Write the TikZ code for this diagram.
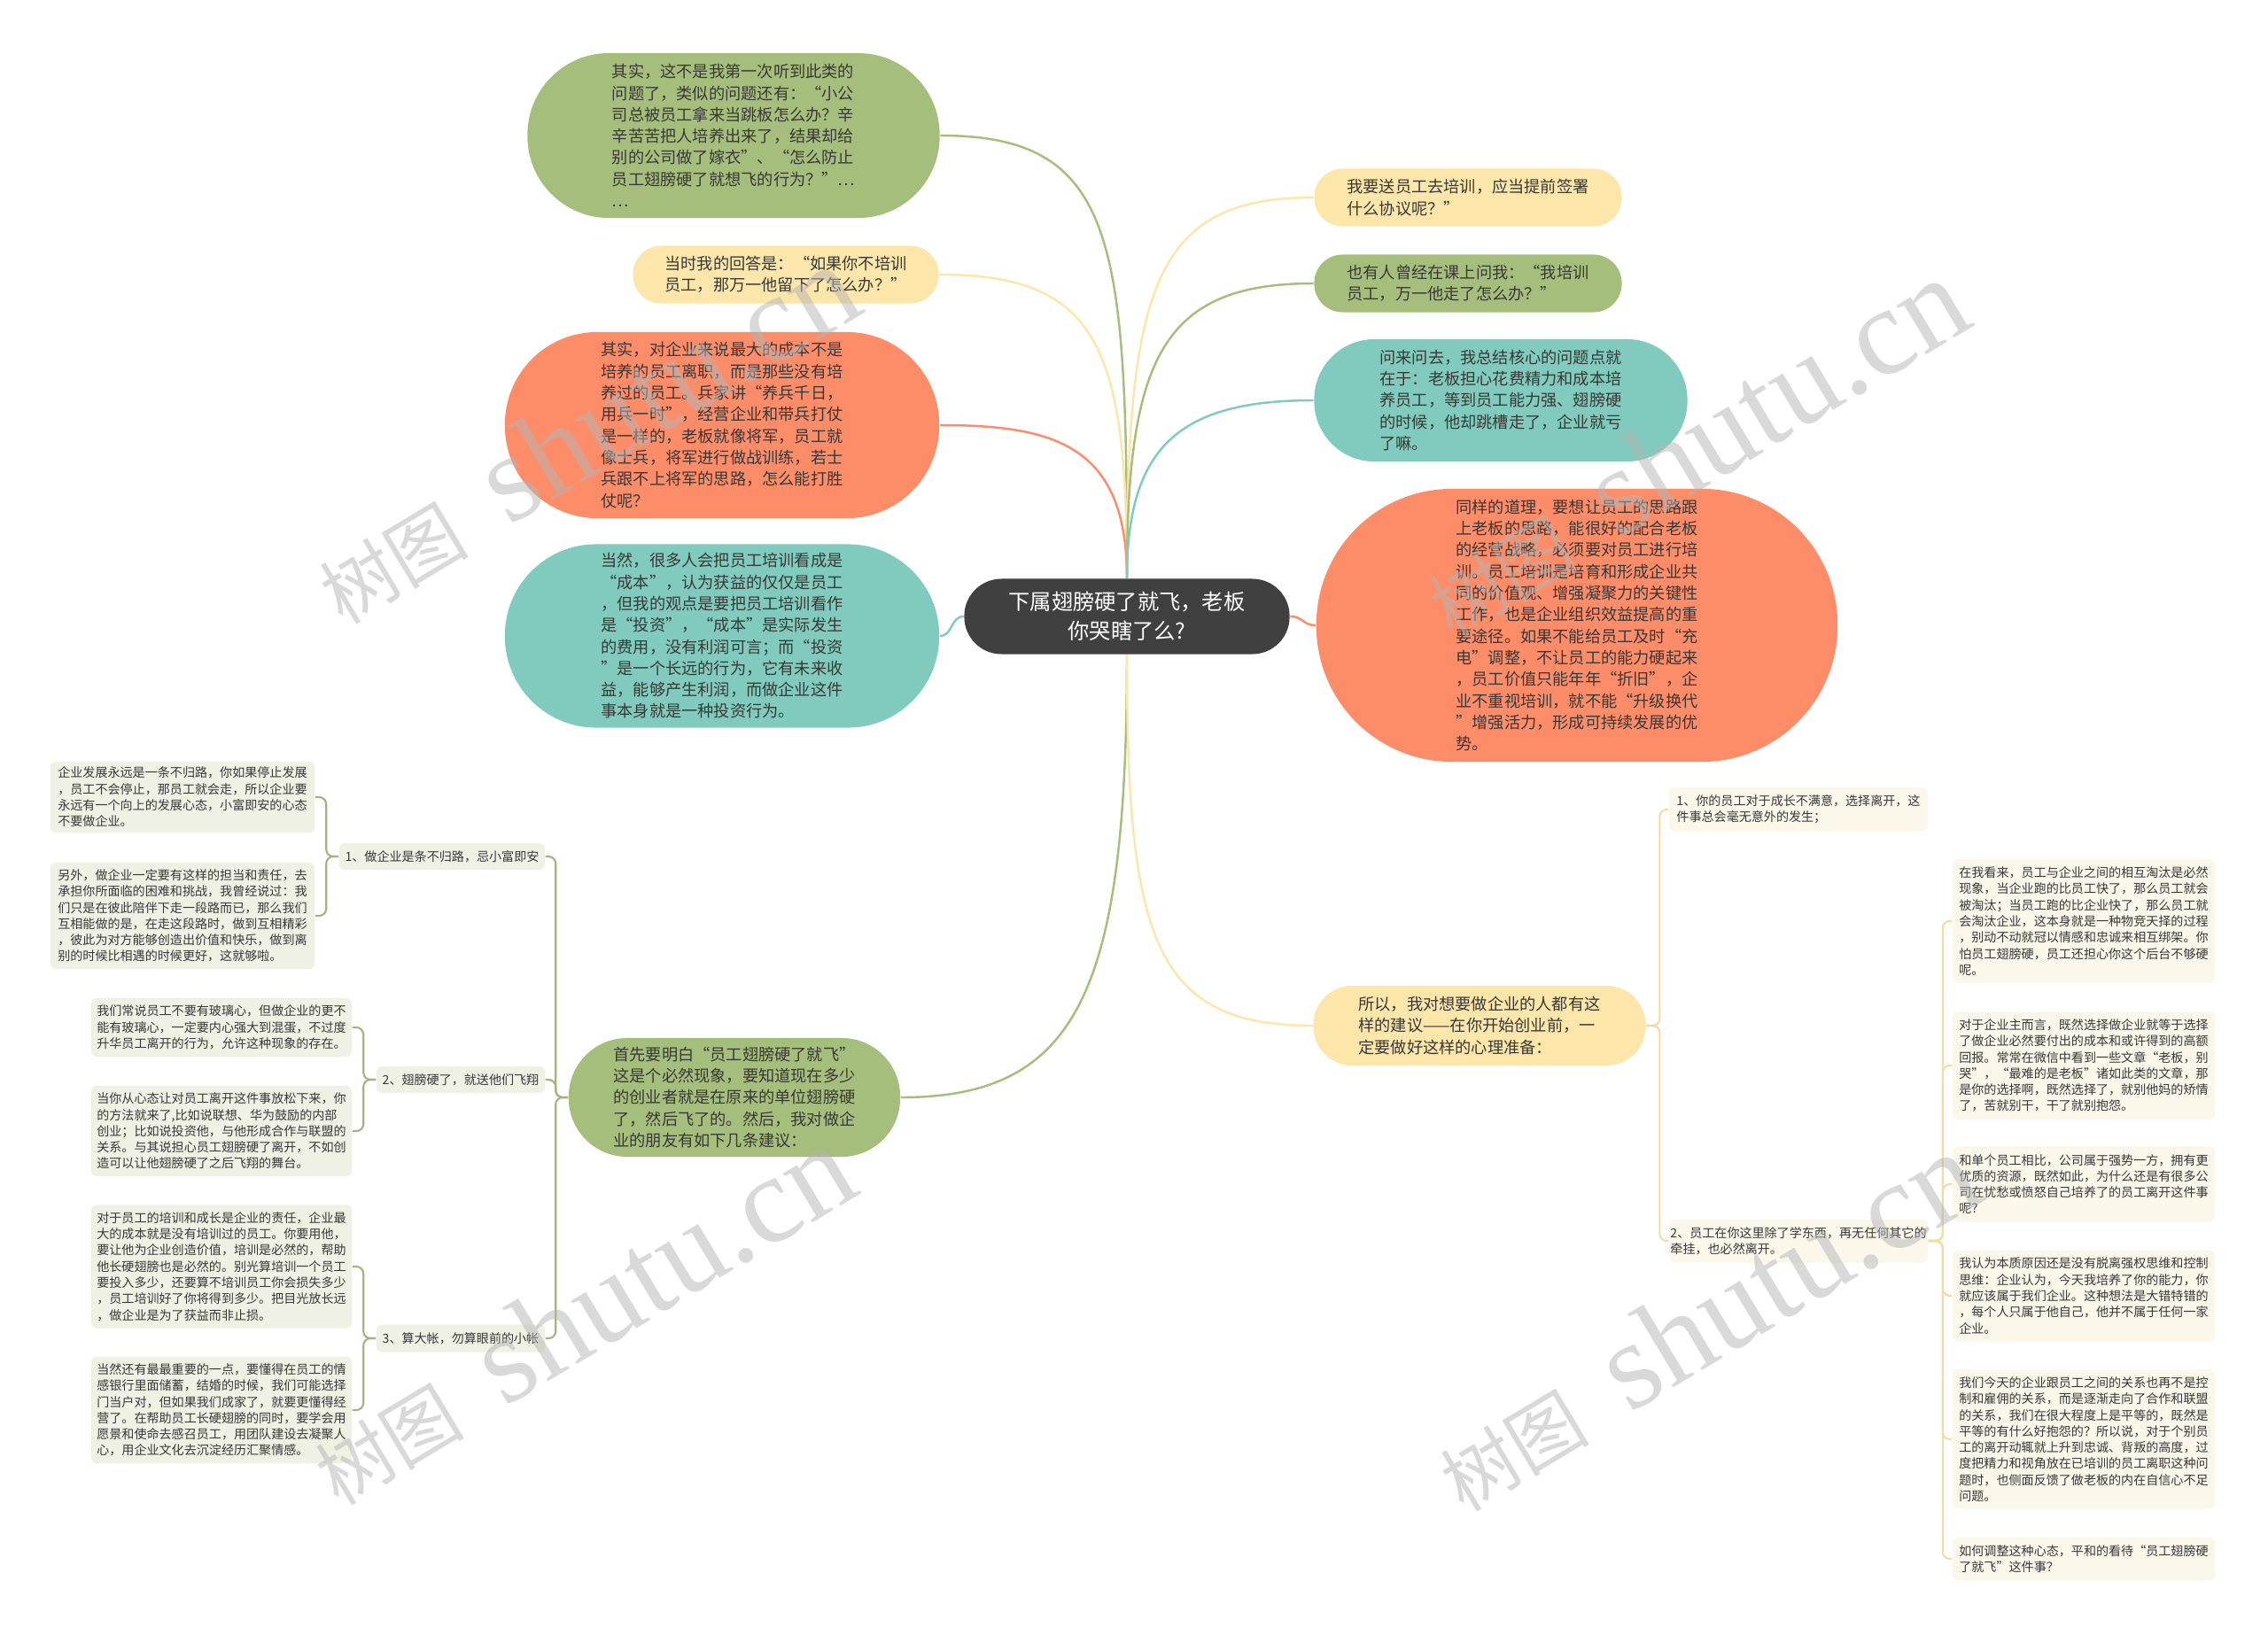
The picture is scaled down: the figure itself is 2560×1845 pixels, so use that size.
\documentclass[tikz,border=0pt]{standalone}
\usepackage{fontspec}
\setmainfont{Noto Sans CJK SC}
\newfontfamily\wmfont{Liberation Serif}
\newfontfamily\wmcjk{Noto Sans CJK SC}
\usetikzlibrary{positioning, calc}
\definecolor{stdark}{HTML}{404040}
\definecolor{sttext}{HTML}{383838}
\definecolor{stgreen}{HTML}{A6BE7B}
\definecolor{styellow}{HTML}{FDE6AA}
\definecolor{storange}{HTML}{FD8C69}
\definecolor{stteal}{HTML}{80CBBD}
\definecolor{stleaf}{HTML}{EEF1E4}
\definecolor{stcream}{HTML}{FCF7EB}
\definecolor{stline}{HTML}{A3B47E}
\definecolor{stlinelight}{HTML}{F3DCA3}
\definecolor{stwm}{HTML}{B4B4B4}
\newcommand{\wmtext}{{\wmcjk\fontsize{24}{24}\selectfont 树图}\hspace{14pt}shutu.cn}

\begin{document}
\begin{tikzpicture}[x=0.01cm, y=-0.01cm,
    bubble/.style={rounded corners=#1, inner sep=0pt, align=left,
      text=sttext, font=\fontsize{5.18}{6.91}\selectfont},
    hub/.style={rounded corners=0.42cm, fill=stdark, inner sep=0pt,
      minimum width=3.67cm, minimum height=0.85cm, align=center,
      text=white, font=\fontsize{6.9}{9.3}\selectfont},
    leaf/.style={rounded corners=0.06cm, fill=stleaf, inner sep=0pt,
      align=left, text=sttext, font=\fontsize{4}{5.2}\selectfont},
    memo/.style={leaf, fill=stcream},
    link/.style={line width=0.7pt},
    twig/.style={line width=0.6pt, rounded corners=0.08cm},
    wm/.style={text=stwm, text opacity=0.5, inner sep=0pt,
      font=\fontsize{40}{40}\wmfont}
  ]
  \fill[white] (0,0) rectangle (2560,1845);
  \useasboundingbox (0,0) rectangle (2560,1845);

  \node[hub] (root) at (1272,696) {下属翅膀硬了就飞，老板\\你哭瞎了么?};

  \node[bubble=0.92cm, fill=stgreen, minimum width=4.65cm, minimum height=1.86cm] (n1) at (828,153)
    {其实，这不是我第一次听到此类的\\问题了，类似的问题还有：“小公\\司总被员工拿来当跳板怎么办？辛\\辛苦苦把人培养出来了，结果却给\\别的公司做了嫁衣”、“怎么防止\\员工翅膀硬了就想飞的行为？”…\\…};
  \node[bubble=0.32cm, fill=styellow, minimum width=3.45cm, minimum height=0.65cm] (n2) at (887,310)
    {当时我的回答是：“如果你不培训\\员工，那万一他留下了怎么办？”};
  \node[bubble=1.04cm, fill=storange, minimum width=4.90cm, minimum height=2.10cm] (n3) at (815,480)
    {其实，对企业来说最大的成本不是\\培养的员工离职，而是那些没有培\\养过的员工。兵家讲“养兵千日，\\用兵一时”，经营企业和带兵打仗\\是一样的，老板就像将军，员工就\\像士兵，将军进行做战训练，若士\\兵跟不上将军的思路，怎么能打胜\\仗呢？};
  \node[bubble=1.03cm, fill=stteal, minimum width=4.90cm, minimum height=2.07cm] (n4) at (815,718)
    {当然，很多人会把员工培训看成是\\“成本”，认为获益的仅仅是员工\\，但我的观点是要把员工培训看作\\是“投资”，“成本”是实际发生\\的费用，没有利润可言；而“投资\\”是一个长远的行为，它有未来收\\益，能够产生利润，而做企业这件\\事本身就是一种投资行为。};

  \node[bubble=0.32cm, fill=styellow, minimum width=3.47cm, minimum height=0.65cm] (n6) at (1657,223)
    {我要送员工去培训，应当提前签署\\什么协议呢？”};
  \node[bubble=0.32cm, fill=stgreen, minimum width=3.47cm, minimum height=0.65cm] (n7) at (1657,320)
    {也有人曾经在课上问我：“我培训\\员工，万一他走了怎么办？”};
  \node[bubble=0.68cm, fill=stteal, minimum width=4.21cm, minimum height=1.38cm] (n8) at (1694,452)
    {问来问去，我总结核心的问题点就\\在于：老板担心花费精力和成本培\\养员工，等到员工能力强、翅膀硬\\的时候，他却跳槽走了，企业就亏\\了嘛。};
  \node[bubble=1.53cm, fill=storange, minimum width=5.88cm, minimum height=3.08cm] (n9) at (1780,706)
    {同样的道理，要想让员工的思路跟\\上老板的思路，能很好的配合老板\\的经营战略，必须要对员工进行培\\训。员工培训是培育和形成企业共\\同的价值观、增强凝聚力的关键性\\工作，也是企业组织效益提高的重\\要途径。如果不能给员工及时“充\\电”调整，不让员工的能力硬起来\\，员工价值只能年年“折旧”，企\\业不重视培训，就不能“升级换代\\”增强活力，形成可持续发展的优\\势。};

  \node[bubble=0.66cm, fill=stgreen, minimum width=3.74cm, minimum height=1.34cm] (n5) at (829,1239)
    {首先要明白“员工翅膀硬了就飞”\\这是个必然现象，要知道现在多少\\的创业者就是在原来的单位翅膀硬\\了，然后飞了的。然后，我对做企\\业的朋友有如下几条建议：};
  \node[bubble=0.44cm, fill=styellow, minimum width=3.75cm, minimum height=0.90cm] (n10) at (1670,1158)
    {所以，我对想要做企业的人都有这\\样的建议——在你开始创业前，一\\定要做好这样的心理准备：};

  \node[leaf, align=center, minimum width=2.32cm, minimum height=0.30cm] (L1) at (499,967)
    {1、做企业是条不归路，忌小富即安};
  \node[leaf, minimum width=2.98cm, minimum height=0.80cm] (L1a) at (206,900)
    {企业发展永远是一条不归路，你如果停止发展\\，员工不会停止，那员工就会走，所以企业要\\永远有一个向上的发展心态，小富即安的心态\\不要做企业。};
  \node[leaf, minimum width=2.98cm, minimum height=1.20cm] (L1b) at (206,1034)
    {另外，做企业一定要有这样的担当和责任，去\\承担你所面临的困难和挑战，我曾经说过：我\\们只是在彼此陪伴下走一段路而已，那么我们\\互相能做的是，在走这段路时，做到互相精彩\\，彼此为对方能够创造出价值和快乐，做到离\\别的时候比相遇的时候更好，这就够啦。};
  \node[leaf, align=center, minimum width=1.90cm, minimum height=0.30cm] (L2) at (520,1219)
    {2、翅膀硬了，就送他们飞翔};
  \node[leaf, minimum width=2.94cm, minimum height=0.66cm] (L2a) at (250,1160)
    {我们常说员工不要有玻璃心，但做企业的更不\\能有玻璃心，一定要内心强大到混蛋，不过度\\升华员工离开的行为，允许这种现象的存在。};
  \node[leaf, minimum width=2.94cm, minimum height=1.02cm] (L2b) at (250,1277)
    {当你从心态让对员工离开这件事放松下来，你\\的方法就来了,比如说联想、华为鼓励的内部\\创业；比如说投资他，与他形成合作与联盟的\\关系。与其说担心员工翅膀硬了离开，不如创\\造可以让他翅膀硬了之后飞翔的舞台。};
  \node[leaf, align=center, minimum width=1.90cm, minimum height=0.31cm] (L3) at (520,1511)
    {3、算大帐，勿算眼前的小帐};
  \node[leaf, minimum width=2.94cm, minimum height=1.39cm] (L3a) at (250,1430)
    {对于员工的培训和成长是企业的责任，企业最\\大的成本就是没有培训过的员工。你要用他，\\要让他为企业创造价值，培训是必然的，帮助\\他长硬翅膀也是必然的。别光算培训一个员工\\要投入多少，还要算不培训员工你会损失多少\\，员工培训好了你将得到多少。把目光放长远\\，做企业是为了获益而非止损。};
  \node[leaf, minimum width=2.94cm, minimum height=1.20cm] (L3b) at (250,1592)
    {当然还有最最重要的一点，要懂得在员工的情\\感银行里面储蓄，结婚的时候，我们可能选择\\门当户对，但如果我们成家了，就要更懂得经\\营了。在帮助员工长硬翅膀的同时，要学会用\\愿景和使命去感召员工，用团队建设去凝聚人\\心，用企业文化去沉淀经历汇聚情感。};

  \node[memo, minimum width=2.92cm, minimum height=0.49cm] (R1) at (2030,914)
    {1、你的员工对于成长不满意，选择离开，这\\件事总会毫无意外的发生；};
  \node[memo, minimum width=2.92cm, minimum height=0.49cm] (R2) at (2030,1401)
    {2、员工在你这里除了学东西，再无任何其它的\\牵挂，也必然离开。};
  \node[memo, minimum width=2.96cm, minimum height=1.39cm] (R2a) at (2352,1040)
    {在我看来，员工与企业之间的相互淘汰是必然\\现象，当企业跑的比员工快了，那么员工就会\\被淘汰；当员工跑的比企业快了，那么员工就\\会淘汰企业，这本身就是一种物竞天择的过程\\，别动不动就冠以情感和忠诚来相互绑架。你\\怕员工翅膀硬，员工还担心你这个后台不够硬\\呢。};
  \node[memo, minimum width=2.96cm, minimum height=1.22cm] (R2b) at (2352,1203)
    {对于企业主而言，既然选择做企业就等于选择\\了做企业必然要付出的成本和或许得到的高额\\回报。常常在微信中看到一些文章“老板，别\\哭”，“最难的是老板”诸如此类的文章，那\\是你的选择啊，既然选择了，就别他妈的矫情\\了，苦就别干，干了就别抱怨。};
  \node[memo, minimum width=2.96cm, minimum height=0.85cm] (R2c) at (2352,1337)
    {和单个员工相比，公司属于强势一方，拥有更\\优质的资源，既然如此，为什么还是有很多公\\司在忧愁或愤怒自己培养了的员工离开这件事\\呢？};
  \node[memo, minimum width=2.96cm, minimum height=1.03cm] (R2d) at (2352,1463)
    {我认为本质原因还是没有脱离强权思维和控制\\思维：企业认为，今天我培养了你的能力，你\\就应该属于我们企业。这种想法是大错特错的\\，每个人只属于他自己，他并不属于任何一家\\企业。};
  \node[memo, minimum width=2.96cm, minimum height=1.57cm] (R2e) at (2352,1625)
    {我们今天的企业跟员工之间的关系也再不是控\\制和雇佣的关系，而是逐渐走向了合作和联盟\\的关系，我们在很大程度上是平等的，既然是\\平等的有什么好抱怨的？所以说，对于个别员\\工的离开动辄就上升到忠诚、背叛的高度，过\\度把精力和视角放在已培训的员工离职这种问\\题时，也侧面反馈了做老板的内在自信心不足\\问题。};
  \node[memo, minimum width=2.96cm, minimum height=0.49cm] (R2f) at (2352,1760)
    {如何调整这种心态，平和的看待“员工翅膀硬\\了就飞”这件事？};

  \draw[link, stgreen] (root.north) .. controls +(0,-380) and +(200,0) .. (n1.east);
  \draw[link, styellow] (root.north) .. controls +(0,-260) and +(180,0) .. (n2.east);
  \draw[link, storange] (root.north) .. controls +(0,-150) and +(130,0) .. (n3.east);
  \draw[link, stteal] (root.west) .. controls +(-15,0) and +(15,0) .. (n4.east);
  \draw[link, styellow] (root.north) .. controls +(0,-330) and +(-180,0) .. (n6.west);
  \draw[link, stgreen] (root.north) .. controls +(0,-250) and +(-170,0) .. (n7.west);
  \draw[link, stteal] (root.north) .. controls +(0,-150) and +(-150,0) .. (n8.west);
  \draw[link, storange] (root.east) .. controls +(15,0) and +(-15,0) .. (n9.west);
  \draw[link, stgreen] (root.south) .. controls +(0,380) and +(200,0) .. (n5.east);
  \draw[link, styellow] (root.south) .. controls +(0,320) and +(-180,0) .. (n10.west);

  \draw[twig, stline] (n5.west) -- ++(-14,0) |- (L1.east);
  \draw[twig, stline] (n5.west) -- ++(-14,0) |- (L2.east);
  \draw[twig, stline] (n5.west) -- ++(-14,0) |- (L3.east);
  \draw[twig, stline] (L1.west) -- ++(-14,0) |- (L1a.east);
  \draw[twig, stline] (L1.west) -- ++(-14,0) |- (L1b.east);
  \draw[twig, stline] (L2.west) -- ++(-14,0) |- (L2a.east);
  \draw[twig, stline] (L2.west) -- ++(-14,0) |- (L2b.east);
  \draw[twig, stline] (L3.west) -- ++(-14,0) |- (L3a.east);
  \draw[twig, stline] (L3.west) -- ++(-14,0) |- (L3b.east);

  \draw[twig, stlinelight] (n10.east) -- ++(15,0) |- (R1.west);
  \draw[twig, stlinelight] (n10.east) -- ++(15,0) |- (R2.west);
  \foreach \k in {R2a,R2b,R2c,R2d,R2e,R2f}
    \draw[twig, stlinelight] (R2.east) -- ++(16,0) |- (\k.west);

  \node[wm, rotate=31] (wm1) at (660,490) {\wmtext};
  \node[wm, rotate=31] (wm2) at (1912,505) {\wmtext};
  \node[wm, rotate=31] (wm3) at (655,1485) {\wmtext};
  \node[wm, rotate=31] (wm4) at (1925,1492) {\wmtext};
\end{tikzpicture}
\end{document}
